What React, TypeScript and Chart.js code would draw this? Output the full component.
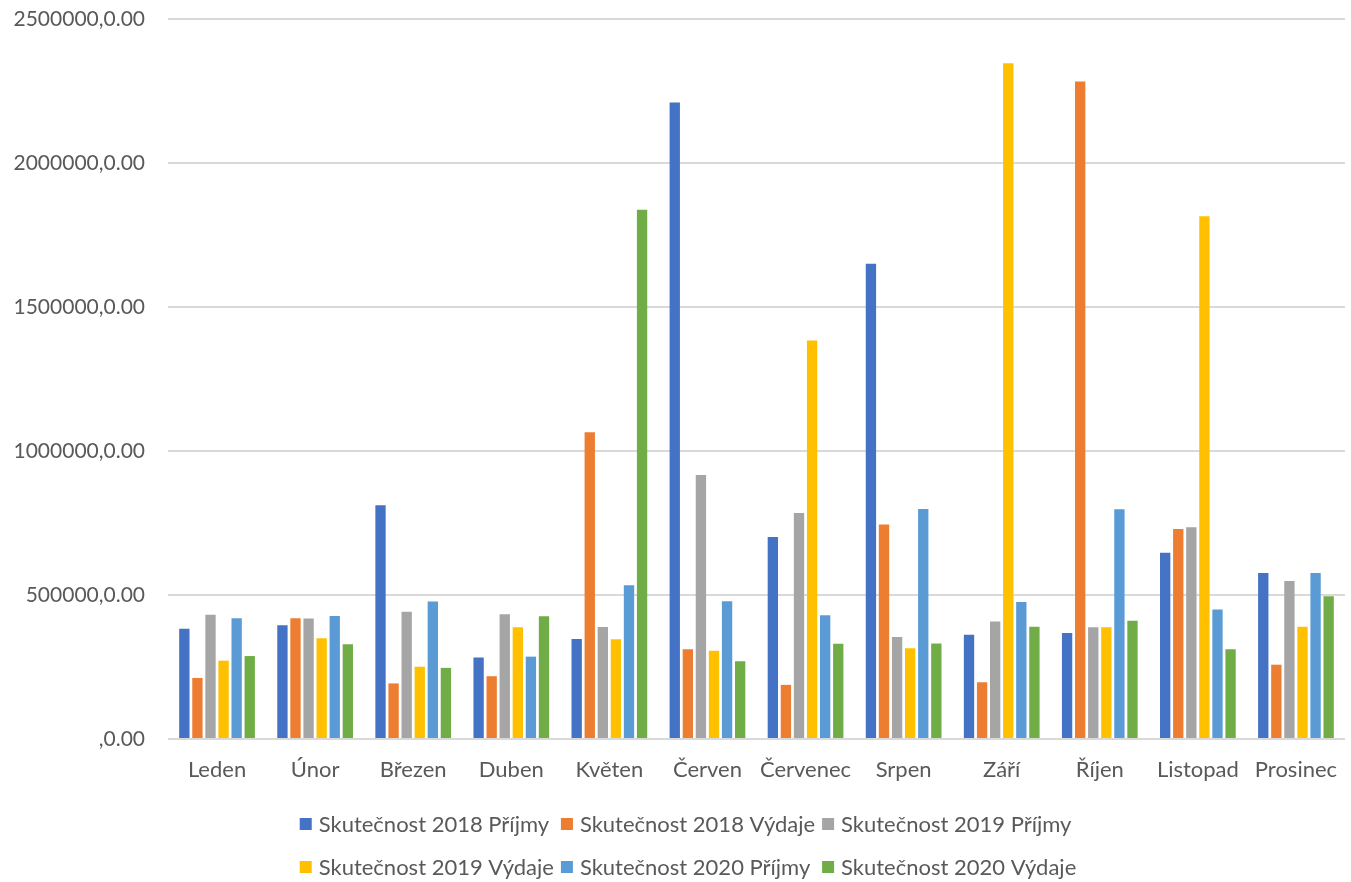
import React, { useEffect, useRef } from "react";
import { Chart, registerables } from "chart.js";

Chart.register(...registerables);

const months = ["Leden", "Únor", "Březen", "Duben", "Květen", "Červen", "Červenec", "Srpen", "Září", "Říjen", "Listopad", "Prosinec"];

const seriesNames = [
  "Skutečnost 2018 Příjmy",
  "Skutečnost 2018 Výdaje",
  "Skutečnost 2019 Příjmy",
  "Skutečnost 2019 Výdaje",
  "Skutečnost 2020 Příjmy",
  "Skutečnost 2020 Výdaje",
];

const prijmy2018 = [383000, 395000, 812000, 283000, 347000, 2210000, 701000, 1650000, 362000, 368000, 647000, 576000];
const vydaje2018 = [212000, 419000, 193000, 218000, 1065000, 312000, 188000, 745000, 197000, 2283000, 729000, 258000];
const prijmy2019 = [431000, 418000, 442000, 433000, 389000, 917000, 785000, 354000, 408000, 388000, 735000, 549000];
const vydaje2019 = [272000, 350000, 251000, 388000, 346000, 306000, 1384000, 315000, 2346000, 388000, 1815000, 390000];
const prijmy2020 = [419000, 427000, 477000, 286000, 534000, 478000, 430000, 799000, 476000, 798000, 450000, 576000];
const vydaje2020 = [288000, 329000, 247000, 426000, 1838000, 270000, 331000, 332000, 390000, 411000, 312000, 496000];

const seriesColors = ["#4472C4", "#ED7D31", "#A5A5A5", "#FFC000", "#5B9BD5", "#70AD47"];

const yMin = 0;
const yMax = 2500000;
const yStep = 500000;

const FONT_FAMILY = "Lato, 'Open Sans', sans-serif";
const Y_FONT_SIZE = 21;
const FONT_SIZE = 22;
const TEXT_COLOR = "#595959";

const gridLegend = {
  id: "gridLegend",
  afterDraw(chart: any) {
    const ctx = chart.ctx as CanvasRenderingContext2D;
    ctx.save();
    ctx.font = `${FONT_SIZE}px ${FONT_FAMILY}`;
    const ds = chart.data.datasets;
    const box = 12;
    const gap = 7;
    const sep = 7;
    const widths = ds.map((d: any) => box + gap + ctx.measureText(d.label).width);
    const maxW = Math.max(...widths);
    const cols = 3;
    const colW = maxW + sep;
    const totalW = colW * (cols - 1) + maxW;
    const startX = 688 - totalW / 2;
    const rowsY = [chart.height - 58, chart.height - 15];
    ds.forEach((d: any, i: number) => {
      const r = Math.floor(i / cols);
      const c = i % cols;
      const x = startX + c * colW;
      const y = rowsY[r];
      ctx.fillStyle = d.backgroundColor;
      ctx.fillRect(x, y - box / 2, box, box);
      ctx.fillStyle = TEXT_COLOR;
      ctx.textBaseline = "middle";
      ctx.textAlign = "left";
      ctx.fillText(d.label, x + box + gap, y + 1);
    });
    ctx.restore();
  },
};

export default function App() {
  const canvasRef = useRef<HTMLCanvasElement | null>(null);

  useEffect(() => {
    const canvas = canvasRef.current;
    if (!canvas) return;
    const values = [prijmy2018, vydaje2018, prijmy2019, vydaje2019, prijmy2020, vydaje2020];
    const chart = new Chart(canvas, {
      type: "bar",
      data: {
        labels: months,
        datasets: values.map((v, i) => ({
          label: seriesNames[i],
          data: v,
          backgroundColor: seriesColors[i],
          borderWidth: 0,
          categoryPercentage: 0.8,
          barPercentage: 0.79,
        })),
      },
      options: {
        responsive: false,
        animation: false,
        devicePixelRatio: 1,
        layout: { padding: { top: 19, right: 6, bottom: 93, left: 0 } },
        plugins: {
          legend: { display: false },
          tooltip: { enabled: false },
          title: { display: false },
        },
        scales: {
          x: {
            grid: { display: false, drawTicks: false },
            border: { display: false },
            ticks: {
              color: TEXT_COLOR,
              font: { family: FONT_FAMILY, size: FONT_SIZE },
              padding: 18,
              maxRotation: 0,
              autoSkip: false,
            },
            afterFit: (s: any) => {
              s.height = 50;
              s.paddingLeft = 0;
              s.paddingRight = 0;
            },
          },
          y: {
            min: yMin,
            max: yMax,
            grid: { color: "#D9D9D9", lineWidth: 2, drawTicks: false },
            border: { display: false },
            ticks: {
              stepSize: yStep,
              color: TEXT_COLOR,
              font: { family: FONT_FAMILY, size: Y_FONT_SIZE },
              padding: 23,
              callback: (v: any) => (Number(v) === 0 ? ",0.00" : `${v},0.00`),
            },
            afterFit: (s: any) => {
              s.width = 168;
              s.paddingTop = 0;
              s.paddingBottom = 0;
            },
          },
        },
      },
      plugins: [gridLegend],
    });
    return () => chart.destroy();
  }, []);

  return (
    <div style={{ position: "fixed", left: 0, top: 0, width: 1351, height: 882, background: "#ffffff" }}>
      <canvas ref={canvasRef} width={1351} height={882} style={{ display: "block" }} />
    </div>
  );
}
